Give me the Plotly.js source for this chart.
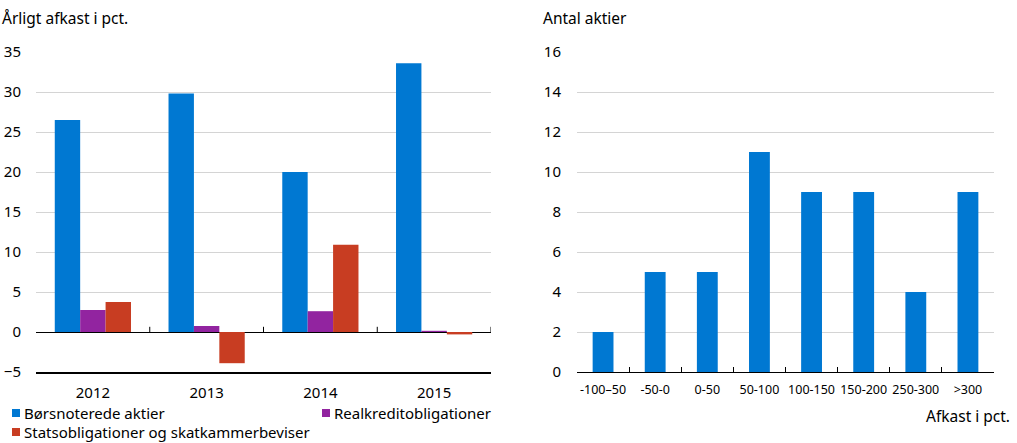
<!DOCTYPE html>
<html>
<head>
<meta charset="utf-8">
<script src="https://cdn.plot.ly/plotly-3.0.1.min.js"></script>
<style>html,body{margin:0;padding:0;background:#fff}#chart{width:1017px;height:443px}</style>
</head>
<body>
<div id="chart"></div>
<script>
// Left chart data
const years = ['2012', '2013', '2014', '2015'];
const boersnoterede = [26.5, 29.8, 20.0, 33.6];
const realkredit = [2.75, 0.75, 2.6, 0.15];
const statsoblig = [3.75, -3.9, 10.9, -0.3];
const seriesNames = ['Børsnoterede aktier', 'Realkreditobligationer', 'Statsobligationer og skatkammerbeviser'];

// Right chart data
const intervals = ['-100–50', '-50-0', '0-50', '50-100', '100-150', '150-200', '250-300', '>300'];
const antal = [2, 5, 5, 11, 9, 9, 4, 9];

const W = 1017, H = 443;
const px = v => v / W;
const py = v => 1 - v / H;
const font = 'Noto Sans, Open Sans, sans-serif';
const BLUE = '#0078d2', PURPLE = '#9224a0', RED = '#c83d22';
const colors = [BLUE, PURPLE, RED];

const traces = [
  {type: 'bar', x: years, y: boersnoterede, name: seriesNames[0], marker: {color: BLUE}, xaxis: 'x', yaxis: 'y'},
  {type: 'bar', x: years, y: realkredit, name: seriesNames[1], marker: {color: PURPLE}, xaxis: 'x', yaxis: 'y'},
  {type: 'bar', x: years, y: statsoblig, name: seriesNames[2], marker: {color: RED}, xaxis: 'x', yaxis: 'y'},
  {type: 'bar', x: intervals, y: antal, name: 'Antal aktier', marker: {color: BLUE}, width: 0.4, xaxis: 'x2', yaxis: 'y2'}
];

// small upward tick marks on the left chart's zero line at category boundaries
const zeroTicks = [0.5, 1.5, 2.5, 3.5].map(b => ({
  type: 'line', xref: 'x', yref: 'y', x0: b, x1: b, y0: 0, y1: 0.65,
  line: {color: '#000', width: 1}
}));

// custom legend: small squares + text
const legendPos = [[12, 413], [322, 413], [12, 432]];
const legendSquares = legendPos.map((p, i) => ({
  type: 'rect', xref: 'paper', yref: 'paper',
  x0: px(p[0]), x1: px(p[0] + 8), y0: py(p[1] + 4), y1: py(p[1] - 4),
  fillcolor: colors[i], line: {width: 0}
}));
const legendTexts = legendPos.map((p, i) => ({
  text: seriesNames[i], xref: 'paper', yref: 'paper', x: px(p[0] + 10), y: py(p[1]),
  xanchor: 'left', yanchor: 'middle', showarrow: false, font: {size: 15}
}));

const layout = {
  width: W, height: H,
  margin: {l: 0, r: 0, t: 0, b: 0, autoexpand: false},
  paper_bgcolor: '#fff', plot_bgcolor: '#fff',
  font: {family: font, size: 15, color: '#000'},
  showlegend: false,
  barmode: 'group', bargap: 0.33, bargroupgap: 0,
  xaxis: {
    domain: [px(36), px(491)], anchor: 'y', type: 'category', automargin: false,
    range: [-0.5, 3.5],
    showline: true, linecolor: '#000', linewidth: 2,
    ticks: '', showgrid: false, zeroline: false,
    ticklabelstandoff: 6, tickfont: {size: 15}
  },
  yaxis: {
    domain: [py(372), py(52)], anchor: 'x', automargin: false,
    range: [-5, 35], dtick: 5, tick0: 0,
    showgrid: true, gridcolor: '#d4d4d4', gridwidth: 1,
    zeroline: true, zerolinecolor: '#000', zerolinewidth: 1,
    showline: false, ticks: '', ticklabelstandoff: 14, tickfont: {size: 15}
  },
  xaxis2: {
    domain: [px(577), px(994)], anchor: 'y2', type: 'category', automargin: false,
    range: [-0.5, 7.5], tickangle: 0,
    showline: true, linecolor: '#000', linewidth: 1,
    ticks: 'inside', ticklen: 5, tickcolor: '#000', tickson: 'boundaries',
    showgrid: false, zeroline: false, ticklabelstandoff: 6, tickfont: {size: 12.5}
  },
  yaxis2: {
    domain: [py(372), py(52)], anchor: 'x2', automargin: false,
    range: [0, 16], dtick: 2,
    showgrid: true, gridcolor: '#d4d4d4', gridwidth: 1,
    zeroline: false, showline: false, ticks: '', ticklabelstandoff: 15, tickfont: {size: 15}
  },
  shapes: zeroTicks.concat(legendSquares),
  annotations: [
    {text: 'Årligt afkast i pct.', xref: 'paper', yref: 'paper', x: px(0), y: py(18), xanchor: 'left', yanchor: 'middle', showarrow: false, font: {size: 15.5}},
    {text: 'Antal aktier', xref: 'paper', yref: 'paper', x: px(541), y: py(18), xanchor: 'left', yanchor: 'middle', showarrow: false, font: {size: 15.5}},
    {text: 'Afkast i pct.', xref: 'paper', yref: 'paper', x: px(1012), y: py(416), xanchor: 'right', yanchor: 'middle', showarrow: false, font: {size: 15.5}}
  ].concat(legendTexts)
};

Plotly.newPlot('chart', traces, layout, {displayModeBar: false, staticPlot: true});
</script>
</body>
</html>
